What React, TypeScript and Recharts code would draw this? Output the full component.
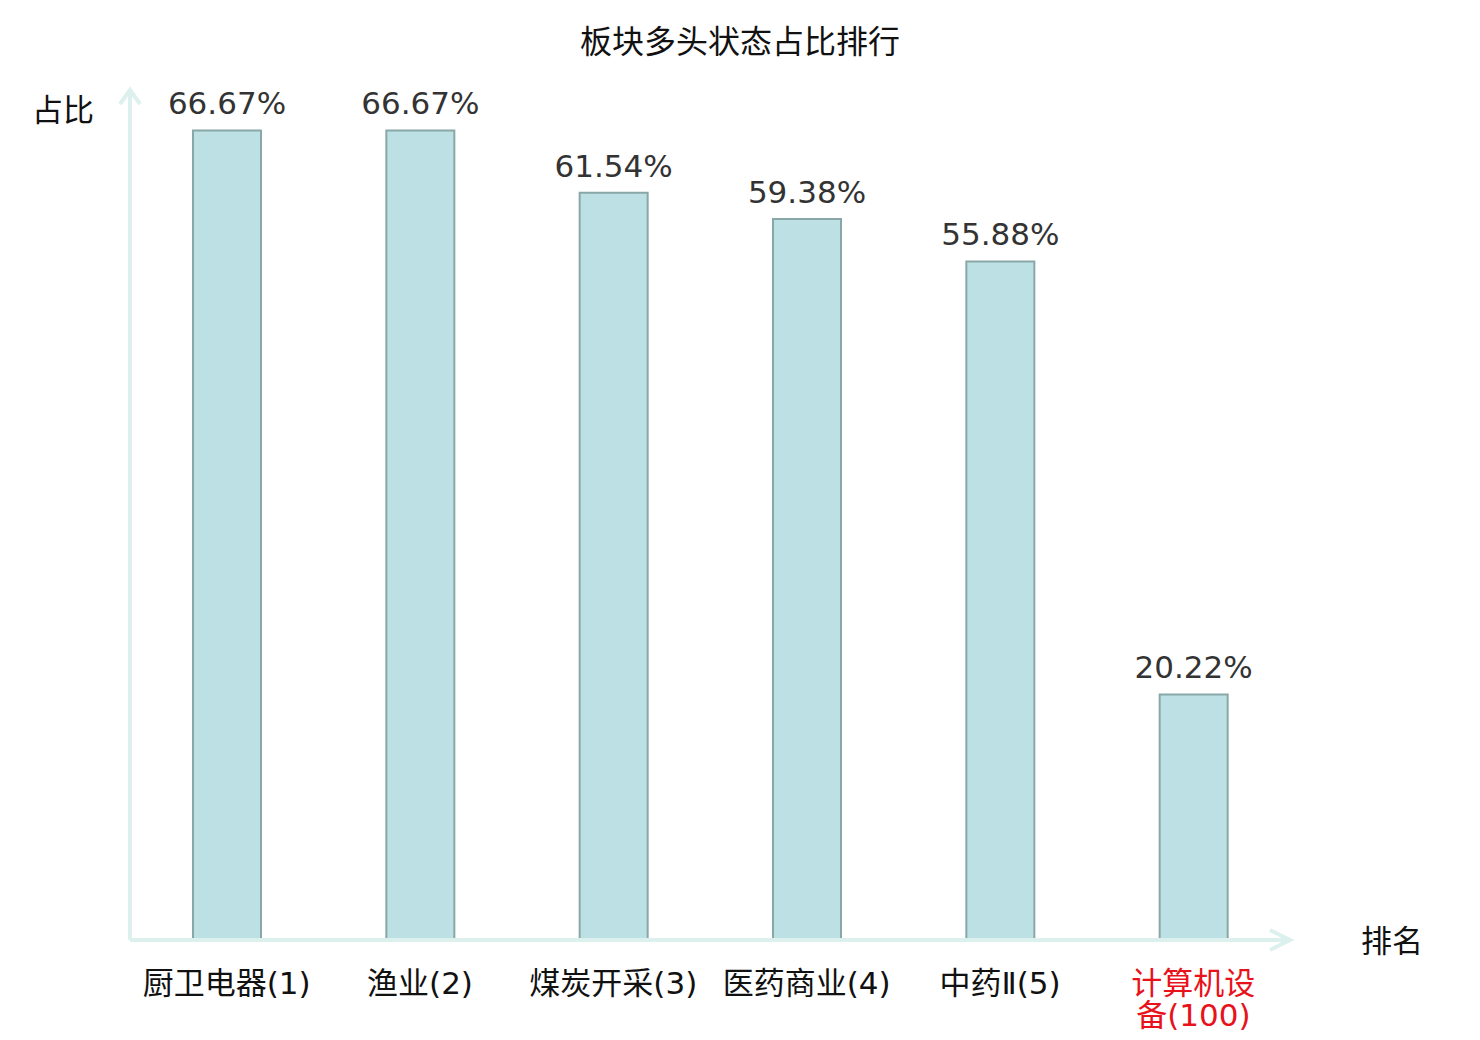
import React from 'react';
import { BarChart, Bar, XAxis, YAxis, LabelList } from 'recharts';

const categories = ['厨卫电器(1)', '渔业(2)', '煤炭开采(3)', '医药商业(4)', '中药Ⅱ(5)', '计算机设备(100)'];
const ratios = [66.67, 66.67, 61.54, 59.38, 55.88, 20.22];
const highlighted = ['计算机设备(100)'];
const yDomain = [0, 70];

const data = categories.map((name, i) => ({ name, ratio: ratios[i] }));

const AXIS_COLOR = '#dcf0ee';
const CJK = '"DejaVu Sans", "Noto Sans CJK SC", sans-serif';

const CategoryTick = ({ x, y, payload }: { x?: number; y?: number; payload?: { value: string } }) => {
    const value = payload?.value ?? '';
    const lines = value.length > 8 ? [value.slice(0, 4), value.slice(4)] : [value];
    const color = highlighted.includes(value) ? '#e8121a' : '#111';
    return (
        <text x={x} y={(y ?? 0) + 46} textAnchor="middle" fill={color} fontSize={31} fontFamily={CJK}>
            {lines.map((line, i) => (
                <tspan key={i} x={x} dy={i === 0 ? 0 : 32}>{line}</tspan>
            ))}
        </text>
    );
};

// arrow head + axis name drawn through the axis label so they follow the axis box
const YAxisName = ({ viewBox }: { viewBox?: { x: number; y: number; width: number; height: number } }) => {
    if (!viewBox) return null;
    const ax = viewBox.x + viewBox.width;
    const top = viewBox.y;
    return (
        <g>
            <polyline points={`${ax - 10},${top + 14} ${ax},${top} ${ax + 10},${top + 14}`} fill="none" stroke={AXIS_COLOR} strokeWidth={4} />
            <text x={ax - 67} y={top + 31} textAnchor="middle" fill="#111" fontSize={31} fontFamily={CJK}>占比</text>
        </g>
    );
};

const XAxisName = ({ viewBox }: { viewBox?: { x: number; y: number; width: number; height: number } }) => {
    if (!viewBox) return null;
    const right = viewBox.x + viewBox.width;
    const ay = viewBox.y;
    return (
        <g>
            <polyline points={`${right - 20},${ay - 10} ${right},${ay} ${right - 20},${ay + 10}`} fill="none" stroke={AXIS_COLOR} strokeWidth={4} />
            <text x={right + 102} y={ay + 12} textAnchor="middle" fill="#111" fontSize={31} fontFamily={CJK}>排名</text>
        </g>
    );
};

const App: React.FC = () => {
    return (
        <div style={{ position: 'absolute', left: 0, top: 0, width: 1480, height: 1040, background: '#fff' }}>
            <div
                style={{
                    position: 'absolute',
                    left: 0,
                    top: 22,
                    width: 1480,
                    textAlign: 'center',
                    fontSize: 32,
                    fontFamily: CJK,
                    color: '#111',
                    lineHeight: '40px',
                }}
            >
                板块多头状态占比排行
            </div>
            <BarChart width={1480} height={1040} data={data} margin={{ top: 90, right: 190, bottom: 0, left: 0 }}>
                <XAxis
                    dataKey="name"
                    axisLine={{ stroke: AXIS_COLOR, strokeWidth: 4 }}
                    tickLine={false}
                    tick={<CategoryTick />}
                    interval={0}
                    height={100}
                    label={<XAxisName />}
                />
                <YAxis
                    width={130}
                    domain={yDomain}
                    tick={false}
                    tickLine={false}
                    axisLine={{ stroke: AXIS_COLOR, strokeWidth: 4 }}
                    label={<YAxisName />}
                />
                <Bar dataKey="ratio" fill="#bce0e3" stroke="#8aa7a7" strokeWidth={2} barSize={68} isAnimationActive={false}>
                    <LabelList
                        dataKey="ratio"
                        position="top"
                        offset={16}
                        fill="#333"
                        fontSize={31}
                        fontFamily='"DejaVu Sans", sans-serif'
                        formatter={(v: number) => `${v.toFixed(2)}%`}
                    />
                </Bar>
            </BarChart>
        </div>
    );
};

export default App;
